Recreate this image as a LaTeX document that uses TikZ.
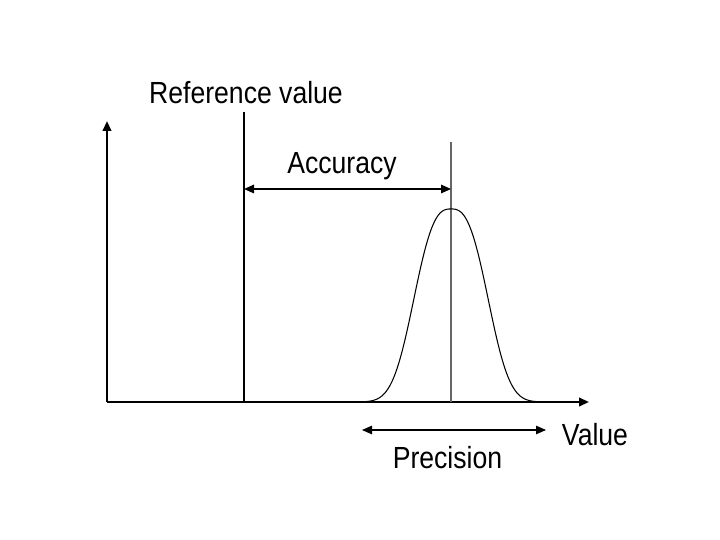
\documentclass[tikz,border=0pt]{standalone}
\usepackage{fontspec}
\setmainfont{Liberation Sans}[FakeStretch=0.87]
\usetikzlibrary{arrows.meta}

\begin{document}
\begin{tikzpicture}[
    x=0.02cm, y=-0.02cm,
    every node/.style={font=\fontsize{17.4}{20}\selectfont, inner sep=0pt, anchor=base},
    >={Triangle[length=2mm, width=1.7mm]},
    thinline/.style={line width=0.6pt},
    axisline/.style={line width=1.3pt},
]

% frame of the page
\useasboundingbox (0,0) rectangle (720,540);

% === Axes ===
\coordinate (origin) at (107,402);
\coordinate (ytip) at (107,121);
\coordinate (xtip) at (589,402);
\draw[axisline, ->] (origin) -- (ytip);
\draw[axisline, ->] (origin) -- (xtip);

% === Reference value and mean ===
\coordinate (refbot) at (244,402);
\coordinate (reftop) at (244,112);
\coordinate (meanbot) at (451,402);
\coordinate (meantop) at (451,142);
\draw[thinline] (refbot) -- (reftop);
\draw[line width=1pt, gray!80!black] (meanbot) -- (meantop);

% === Distribution (bell curve) ===
\draw[thinline, domain=362:542, samples=150, smooth]
    plot (\x, {402-193*exp(-(abs(\x-451)/44)^2.75)});

% === Accuracy ===
\coordinate (accL) at (244,189);
\coordinate (accR) at (451,189);
\draw[line width=0.9pt, <->] (accL) -- (accR);

% === Precision ===
\coordinate (precL) at (362,430);
\coordinate (precR) at (546,430);
\draw[thinline, <->] (precL) -- (precR);

% Labels (placed on their baselines)
\node (reflabel) at (246,104) {Reference value};
\node (acclabel) at (342,174) {Accuracy};
\node (preclabel) at (447.5,468) {Precision};
\node (vallabel) at (595,445) {Value};

\end{tikzpicture}
\end{document}
